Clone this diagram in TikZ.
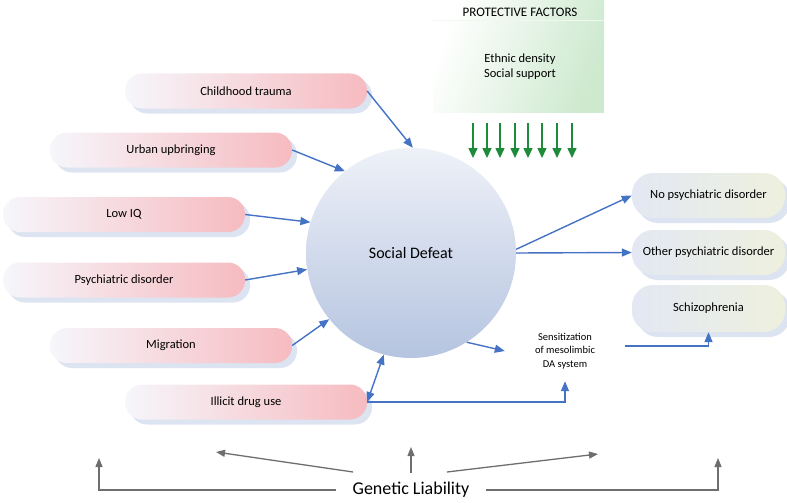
\documentclass[tikz,border=0pt]{standalone}
\usepackage{fontspec}
\setmainfont{Carlito}
\usetikzlibrary{arrows.meta,shadows}
\definecolor{arrblue}{HTML}{4472C4}
\definecolor{pinkR}{HTML}{F6BBC0}
\definecolor{pinkL}{HTML}{F6F6FB}
\definecolor{shadowb}{HTML}{DCE3F1}
\definecolor{greyarr}{HTML}{6E6E6E}
\definecolor{gdark}{HTML}{1E8B3A}
\definecolor{pgreen}{HTML}{CDE9CE}
\definecolor{outL}{HTML}{E3E8F3}
\definecolor{outR}{HTML}{EEF0DE}
\definecolor{circT}{HTML}{EEF1F8}
\definecolor{circB}{HTML}{B5C4E0}
\begin{document}
\begin{tikzpicture}[x=1pt,y=-1pt,
  factor/.style={rectangle, rounded corners=17pt, minimum width=242pt, minimum height=35pt,
    inner sep=0pt, left color=pinkL, right color=pinkR,
    drop shadow={shadow xshift=5pt,shadow yshift=-5pt,fill=shadowb,opacity=1},
    font=\fontsize{12.5}{15}\selectfont},
  outcome/.style={rectangle, rounded corners=21pt, minimum width=153pt, minimum height=45pt,
    inner sep=0pt, left color=outL, right color=outR,
    drop shadow={shadow xshift=5pt,shadow yshift=-5pt,fill=shadowb,opacity=1},
    font=\fontsize{12.5}{15}\selectfont},
  barr/.style={draw=arrblue, line width=1.4pt, -{Triangle[length=10pt,width=8pt]}},
  garr/.style={draw=greyarr, line width=1.3pt, -{Triangle[length=9pt,width=7pt]}},
  parr/.style={draw=gdark, line width=1.5pt, -{Triangle[length=10pt,width=9pt]}}
]
\useasboundingbox (0,0) rectangle (787,503);

% protective factors
\node[rectangle, minimum width=171pt, minimum height=112pt, inner sep=0pt,
  shading=axis, left color=white, right color=pgreen, shading angle=70] (pf) at (518.5,56) {};
\draw[white!70!pgreen, line width=0.8pt] (pf.north west) ++(0,21) -- ++(171,0);
\node[font=\fontsize{13}{15}\selectfont] (pfh) at (520,12) {PROTECTIVE FACTORS};
\node[font=\fontsize{12.5}{15}\selectfont, align=center] (pft) at (520,67) {Ethnic density\\Social support};
\foreach \xx [count=\i] in {473,487,500,515,528,542,557,572}{
  \coordinate (pa\i) at (\xx,123);
  \coordinate (pb\i) at (\xx,158);
  \draw[parr] (pa\i) -- (pb\i);
}

% social defeat
\node[circle, minimum size=210pt, inner sep=0pt, top color=circT, bottom color=circB,
  font=\fontsize{16}{19}\selectfont] (sd) at (411,253) {Social Defeat};

% factors
\node[factor] (ct) at (246,91) {Childhood trauma};
\node[factor] (ub) at (171,150) {Urban upbringing};
\node[factor] (iq) at (124,214.5) {Low IQ};
\node[factor] (pd) at (124,280) {Psychiatric disorder};
\node[factor] (mg) at (171,345.5) {Migration};
\node[factor] (ill) at (246,402) {Illicit drug use};

% outcomes
\node[outcome] (nop) at (708.5,195.5) {No psychiatric disorder};
\node[outcome] (oth) at (708.5,252.5) {Other psychiatric disorder};
\node[outcome, minimum height=47pt] (sch) at (708.5,308.5) {Schizophrenia};

% sensitization
\node[align=center, minimum width=120pt, minimum height=60pt, inner sep=0pt,
  font=\fontsize{10.5}{13.5}\selectfont] (sens) at (565,351) {Sensitization\\of mesolimbic\\DA system};

% arrows into social defeat
\draw[barr] (ct.east) -- (sd.89);
\draw[barr] (ub.east) -- (sd.129);
\draw[barr] (iq.east) -- (sd.163);
\draw[barr] (pd.east) -- (sd.189);
\draw[barr] (mg.east) -- (sd.219);
\draw[barr, {Triangle[length=10pt,width=8pt]}-{Triangle[length=10pt,width=8pt]}] (ill.east) -- (sd.255);

% arrows out
\draw[barr] (sd.2) -- (nop.west);
\draw[barr] (sd.0) -- (oth.west);
\draw[barr] (sd.302) -- (sens.west);
\draw[barr] ([yshift=5pt]sens.east) -| (sch.south);
\draw[barr] (ill.east) -| (sens.south);

% genetic liability
\node[font=\fontsize{18}{21}\selectfont, inner xsep=16pt, inner ysep=0pt] (gl) at (411,490) {Genetic Liability};
\coordinate (g1) at (99,458);
\coordinate (g5) at (718,458);
\coordinate (gs2) at (353,472);
\coordinate (g2) at (216,452);
\coordinate (gs3) at (411,473);
\coordinate (g3) at (411,447);
\coordinate (gs4) at (447,472);
\coordinate (g4) at (598,454);
\draw[garr] (gl.west) -| (g1);
\draw[garr] (gl.east) -| (g5);
\draw[garr] (gs2) -- (g2);
\draw[garr] (gs3) -- (g3);
\draw[garr] (gs4) -- (g4);
\end{tikzpicture}
\end{document}
